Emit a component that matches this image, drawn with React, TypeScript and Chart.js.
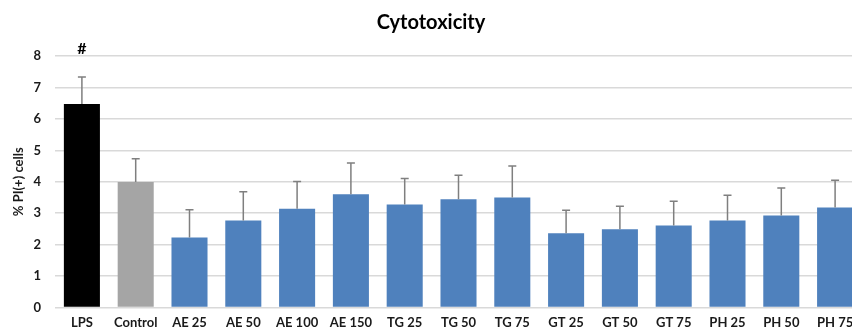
import React, { useEffect, useRef } from "react";
import { Chart, registerables } from "chart.js";

Chart.register(...registerables);

const categories = ["LPS", "Control", "AE 25", "AE 50", "AE 100", "AE 150", "TG 25", "TG 50", "TG 75", "GT 25", "GT 50", "GT 75", "PH 25", "PH 50", "PH 75"];
const values = [6.47, 3.99, 2.23, 2.77, 3.14, 3.6, 3.28, 3.44, 3.5, 2.36, 2.49, 2.61, 2.77, 2.93, 3.18];
const errors = [0.86, 0.74, 0.88, 0.91, 0.87, 1.0, 0.82, 0.77, 1.0, 0.73, 0.73, 0.77, 0.8, 0.87, 0.87];
const colors = ["#000000", "#a5a5a5", "#4f81bd", "#4f81bd", "#4f81bd", "#4f81bd", "#4f81bd", "#4f81bd", "#4f81bd", "#4f81bd", "#4f81bd", "#4f81bd", "#4f81bd", "#4f81bd", "#4f81bd"];
const marks = ["#", "", "", "", "", "", "", "", "", "", "", "", "", "", ""];
const yTicks = [0, 1, 2, 3, 4, 5, 6, 7, 8];

const FONT = "Lato, 'Open Sans', sans-serif";

const errorBarPlugin = {
  id: "errorBars",
  afterDatasetsDraw(chart: any) {
    const ctx = chart.ctx;
    const meta = chart.getDatasetMeta(0);
    const y = chart.scales.y;
    ctx.save();
    ctx.strokeStyle = "#7f7f7f";
    ctx.lineWidth = 1.5;
    meta.data.forEach((bar: any, i: number) => {
      const x = bar.x;
      const yb = y.getPixelForValue(values[i]);
      const yt = y.getPixelForValue(values[i] + errors[i]);
      ctx.beginPath();
      ctx.moveTo(x, yb);
      ctx.lineTo(x, yt);
      ctx.moveTo(x - 4, yt);
      ctx.lineTo(x + 4, yt);
      ctx.stroke();
      if (marks[i]) {
        ctx.fillStyle = "#000000";
        ctx.font = `bold 16px ${FONT}`;
        ctx.textAlign = "center";
        ctx.textBaseline = "middle";
        ctx.fillText(marks[i], x, yt - 28);
      }
    });
    ctx.restore();
  },
};

export default function App() {
  const ref = useRef<HTMLCanvasElement>(null);
  useEffect(() => {
    if (!ref.current) return;
    const chart = new Chart(ref.current, {
      type: "bar",
      data: {
        labels: categories,
        datasets: [
          {
            data: values,
            backgroundColor: colors,
            borderWidth: 0,
            categoryPercentage: 1,
            barPercentage: 0.67,
          },
        ],
      },
      options: {
        responsive: false,
        animation: false,
        devicePixelRatio: 1,
        layout: { padding: { left: 0, right: 8, top: 0, bottom: 0 } },
        plugins: {
          legend: { display: false },
          tooltip: { enabled: false },
          title: {
            display: true,
            text: "Cytotoxicity",
            color: "#000000",
            font: { family: FONT, size: 20, weight: "bold" },
            padding: { top: 11, bottom: 21 },
          },
        },
        scales: {
          x: {
            grid: { display: false, drawTicks: false },
            border: { display: false },
            ticks: {
              color: "#1a1a1a",
              font: { family: FONT, size: 13, weight: "bold" },
              padding: 8,
              maxRotation: 0,
              autoSkip: false,
            },
            afterFit(scale: any) {
              scale.height = 24.5;
            },
          },
          y: {
            min: 0,
            max: 8,
            afterBuildTicks(scale: any) {
              scale.ticks = yTicks.map((v) => ({ value: v }));
            },
            grid: { color: "#d9d9d9", lineWidth: 1.5, drawTicks: false },
            border: { display: false },
            ticks: {
              color: "#1a1a1a",
              font: { family: FONT, size: 13, weight: "bold" },
              padding: 14,
            },
            title: {
              display: true,
              text: "% PI(+) cells",
              color: "#1a1a1a",
              font: { family: FONT, size: 13, weight: "bold" },
              padding: { top: 11, bottom: 0 },
            },
            afterFit(scale: any) {
              scale.width = 55;
            },
          },
        },
      },
      plugins: [errorBarPlugin],
    });
    return () => chart.destroy();
  }, []);
  return (
    <div style={{ position: "fixed", left: 0, top: 0, width: 852, height: 332, overflow: "hidden", background: "#ffffff" }}>
      <canvas ref={ref} width={870} height={332} style={{ display: "block" }} />
    </div>
  );
}
